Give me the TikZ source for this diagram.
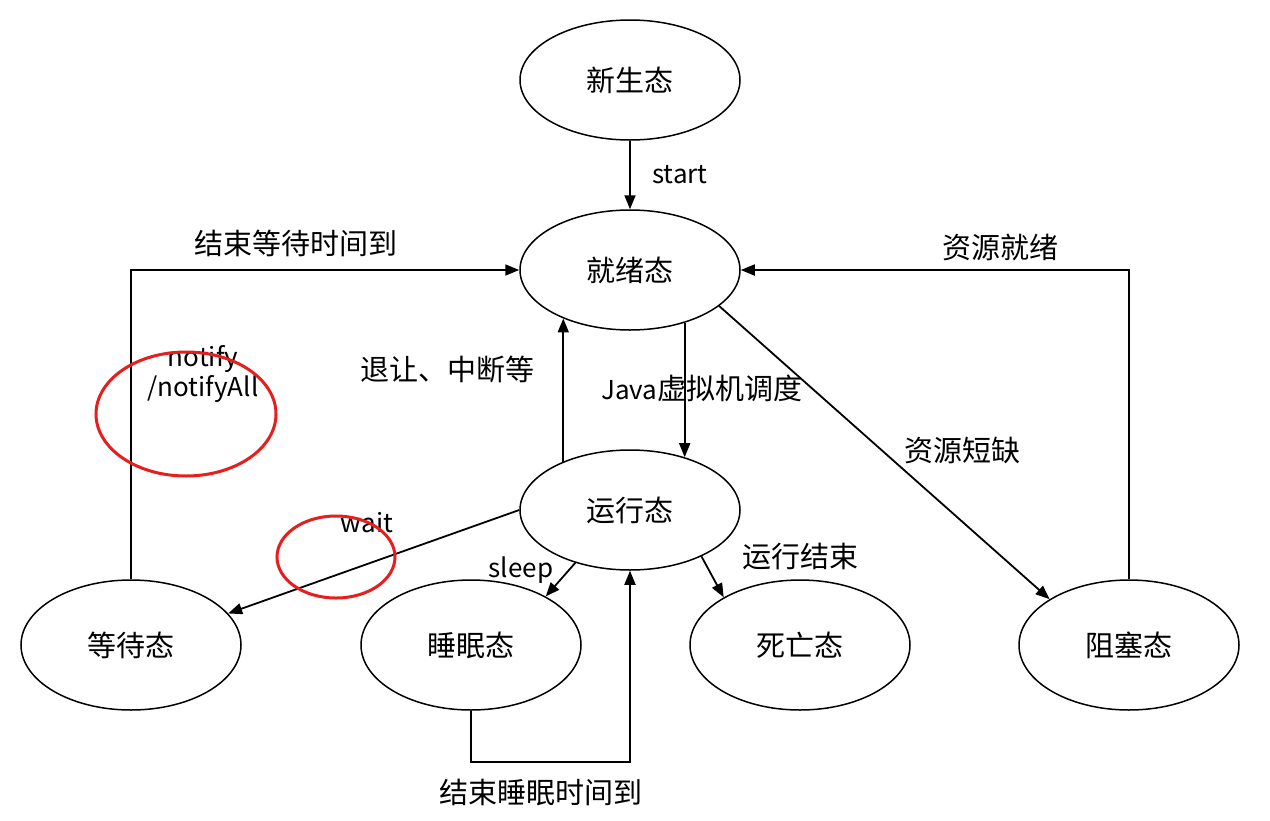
\documentclass[tikz,border=0pt]{standalone}
\usepackage{fontspec}
\setmainfont{Noto Sans CJK SC}
\usetikzlibrary{shapes.geometric,arrows.meta}
\begin{document}
\begin{tikzpicture}[x=1pt,y=-1pt,
  st/.style={ellipse,draw,line width=1.5pt,minimum width=220pt,minimum height=120pt,inner sep=0pt,font=\fontsize{29}{34}\selectfont},
  stb/.style={st,minimum height=130pt},
  arr/.style={line width=1.8pt,-{Triangle[length=14pt,width=11pt]}},
  lbl/.style={font=\fontsize{29}{34}\selectfont,inner sep=0pt},
  lat/.style={font=\fontsize{26}{30}\selectfont,inner sep=0pt},
  redring/.style={draw={rgb,255:red,230;green,30;blue,30},line width=3pt}]
\useasboundingbox (0,0) rectangle (1270,820);
\fill[white] (0,0) rectangle (1270,820);
\node[st] (new) at (630,80) {新生态};
\node[st] (ready) at (630,270) {就绪态};
\node[st] (run) at (630,510) {运行态};
\node[stb] (wait) at (131,645) {等待态};
\node[stb] (sleep) at (471,645) {睡眠态};
\node[stb] (dead) at (800,645) {死亡态};
\node[stb] (block) at (1129,645) {阻塞态};

\draw[arr] (new) -- (ready);
\node[lat] (lstart) at (680,175) {start};

\draw[arr] (wait.north) |- (ready.west);
\node[lbl] (lwaitend) at (296,243) {结束等待时间到};
\node[lat,align=center] (lnotify) at (203,374) {notify\\/notifyAll};

\draw[arr] (block.north) |- (ready.east);
\node[lbl] (lres) at (1000,247) {资源就绪};

\draw[arr] (run.144) -- (ready.216);
\node[lbl] (lyield) at (447,369) {退让、中断等};

\draw[arr] (ready.-44) -- (run.44);
\node[lbl] (ljvm) at (702,388) {{\fontsize{26}{30}\selectfont Java}虚拟机调度};

\draw[arr] (ready.-22) -- (block.150);
\node[lbl] (lshort) at (962,450) {资源短缺};

\draw[arr] (run.180) -- (wait.18);
\node[lat] (lwait) at (367,523) {wait};

\draw[arr] (run.224) -- (sleep.33);
\node[lat] (lsleep) at (521,570) {sleep};

\draw[arr] (run.-33) -- (dead.148);
\node[lbl] (lend) at (800,557) {运行结束};

\draw[arr] (sleep.south) -- ++(0,51) -| (run.south);
\node[lbl] (lsleepend) at (541,792) {结束睡眠时间到};

\draw[redring] (186,414) ellipse [x radius=90, y radius=62];
\draw[redring] (336,557) ellipse [x radius=59, y radius=41];
\end{tikzpicture}
\end{document}
